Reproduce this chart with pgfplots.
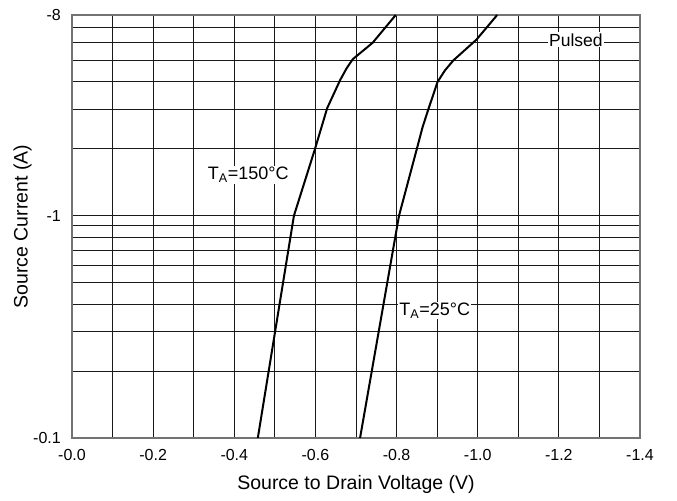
\documentclass[border=0pt]{standalone}
\usepackage{fontspec}
\setmainfont{Liberation Sans}
\usepackage{pgfplots}
\pgfplotsset{compat=1.18}
\usetikzlibrary{calc}

% magnitudes: |V_SD| in V, |I_S| in A (the chart labels them negative)
\begin{document}
\begin{tikzpicture}
\begin{axis}[
  name=ax,
  scale only axis,
  width=568pt, height=423pt,
  ymode=log,
  xmin=0, xmax=1.4, ymin=0.1, ymax=8,
  xtick={0,0.2,0.4,0.6,0.8,1.0,1.2,1.4},
  xticklabels={-0.0,-0.2,-0.4,-0.6,-0.8,-1.0,-1.2,-1.4},
  minor xtick={0.1,0.3,0.5,0.7,0.9,1.1,1.3},
  ytick={0.1,1,8},
  yticklabels={-0.1,-1,-8},
  minor ytick={0.2,0.3,0.4,0.5,0.6,0.7,0.8,0.9,2,3,4,5,6,7},
  major tick length=0pt, minor tick length=0pt,
  grid=both,
  major grid style={black!90, line width=0.9pt},
  minor grid style={black!90, line width=0.9pt},
  axis line style={black!55, line width=1.4pt},
  tick label style={font=\fontsize{16}{16}\selectfont, inner sep=0pt},
  xticklabel style={anchor=center, yshift=-17pt},
  yticklabel style={anchor=east, xshift=-11pt},
  xlabel={Source to Drain Voltage (V)},
  ylabel={Source Current (A)},
  every axis x label/.style={at={(axis description cs:0.5,-0.111)}, anchor=center,
    font=\fontsize{19.5}{19.5}\selectfont},
  every axis y label/.style={at={(axis description cs:-0.087,0.5)}, anchor=center,
    rotate=90, font=\fontsize{19.5}{19.5}\selectfont},
  clip=true,
]
\addplot[black, line width=2pt] coordinates {
  (0.458,0.1) (0.547,1.0)
  (0.599,2.0) (0.629,3.05) (0.661,4.08) (0.677,4.61) (0.692,5.06)
  (0.741,6.0) (0.798,8.0)
};
\addplot[black, line width=2pt] coordinates {
  (0.710,0.1) (0.806,1.0)
  (0.850,2.0) (0.864,2.5) (0.878,3.0) (0.901,4.0) (0.919,4.5) (0.940,5.0)
  (0.997,6.2) (1.048,8.0)
};
\node[fill=white, inner sep=1pt, anchor=base west, font=\fontsize{18}{18}\selectfont]
  at (axis cs:0.332,1.451) {T\textsubscript{A}=150°C};
\node[fill=white, inner sep=1pt, anchor=base west, font=\fontsize{18}{18}\selectfont]
  at (axis cs:0.804,0.355) {T\textsubscript{A}=25°C};
\node[fill=white, inner sep=1pt, anchor=base west, font=\fontsize{17.5}{17.5}\selectfont]
  at (axis cs:1.173,5.80) {Pulsed};
\end{axis}
\pgfresetboundingbox
\path[use as bounding box] ($(ax.south west)+(-72pt,-63pt)$) rectangle ($(ax.north east)+(37pt,15pt)$);
\end{tikzpicture}
\end{document}
